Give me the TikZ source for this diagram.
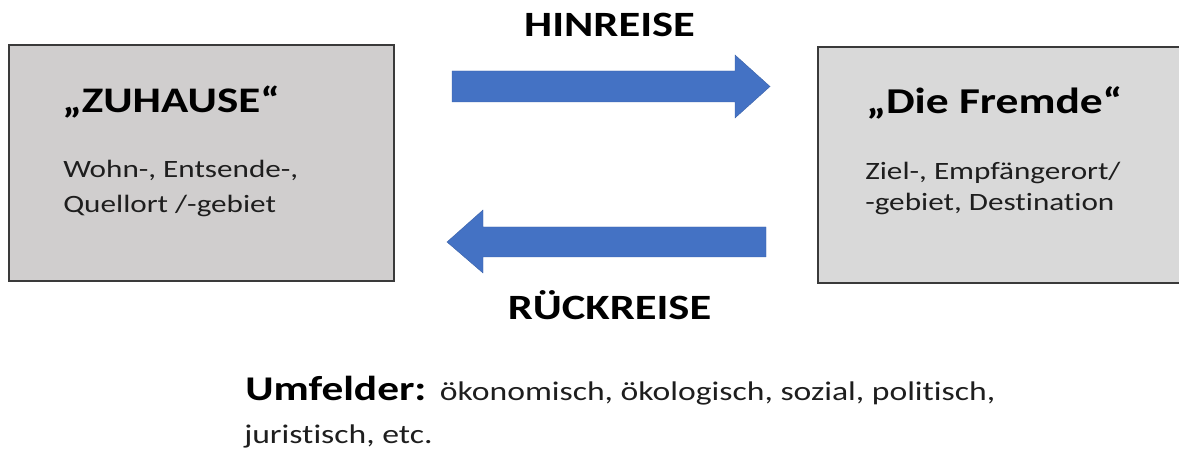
\documentclass[tikz,border=0pt]{standalone}
\usepackage{graphicx}
\usepackage{fontspec}
\setmainfont{Carlito}[Ligatures=NoCommon]
% text is set a little wider than the font's own proportions
\newcommand{\widetext}[1]{\scalebox{1.25}[1]{#1}}
\begin{document}
\begin{tikzpicture}[x=0.75pt,y=-0.75pt,
  place/.style={draw=boxline,line width=1.1pt},
  travel/.style={fill=arrowblue,draw=arrowblue!85!black,line width=0.3pt},
  heading/.style={inner sep=0pt,anchor=base,font=\bfseries\fontsize{26.7}{30}\selectfont},
  boxtitle/.style={inner sep=0pt,anchor=base west,font=\bfseries\fontsize{27}{32}\selectfont},
  boxtext/.style={inner sep=0pt,anchor=base west,text=bodytext,font=\fontsize{18.7}{22}\selectfont},
  note/.style={inner sep=0pt,anchor=base west,text=bodytext,font=\fontsize{20.2}{24}\selectfont}]
\definecolor{boxline}{HTML}{3A3A3A}
\definecolor{homefill}{HTML}{D0CECE}
\definecolor{awayfill}{HTML}{D9D9D9}
\definecolor{arrowblue}{HTML}{4472C4}
\definecolor{bodytext}{HTML}{1E1E1E}
\useasboundingbox (0,0) rectangle (1179,452);
\clip (0,0) rectangle (1179,452);

% the two places
\filldraw[place,fill=homefill] (9,45) rectangle (394,281);
\filldraw[place,fill=awayfill] (818,47) rectangle (1210,283);

\node[boxtitle] (home) at (62,113) {\widetext{„ZUHAUSE“}};
\node[boxtext] (home1) at (63,178) {\widetext{Wohn-, Entsende-,}};
\node[boxtext] (home2) at (63,213) {\widetext{Quellort /-gebiet}};

\node[boxtitle,font=\bfseries\fontsize{27.3}{32}\selectfont] (away) at (866,114) {\widetext{„Die Fremde“}};
\node[boxtext] (away1) at (865,180) {\widetext{Ziel-, Empfängerort/}};
\node[boxtext] (away2) at (865,211) {\widetext{-gebiet, Destination}};

% outward and return journey
\coordinate (outtip) at (770,86.5);
\filldraw[travel] (452,71) -- (735,71) -- (735,55) -- (outtip) -- (735,118) -- (735,102) -- (452,102) -- cycle;
\coordinate (backtip) at (447,242);
\filldraw[travel] (766,227) -- (483,227) -- (483,210) -- (backtip) -- (483,273) -- (483,257) -- (766,257) -- cycle;

\node[heading] (out) at (609.5,37) {\widetext{HINREISE}};
\node[heading] (back) at (609.5,320) {\widetext{RÜCKREISE}};

% surroundings
\node[inner sep=0pt,anchor=base west,font=\bfseries\fontsize{26}{30}\selectfont] (env) at (245,401) {\widetext{Umfelder:}};
\node[note,xshift=9.75pt] (envlist) at (env.base east) {\widetext{ökonomisch, ökologisch, sozial, politisch,}};
\node[note] (envlist2) at (244,444) {\widetext{juristisch, etc.}};
\end{tikzpicture}
\end{document}
